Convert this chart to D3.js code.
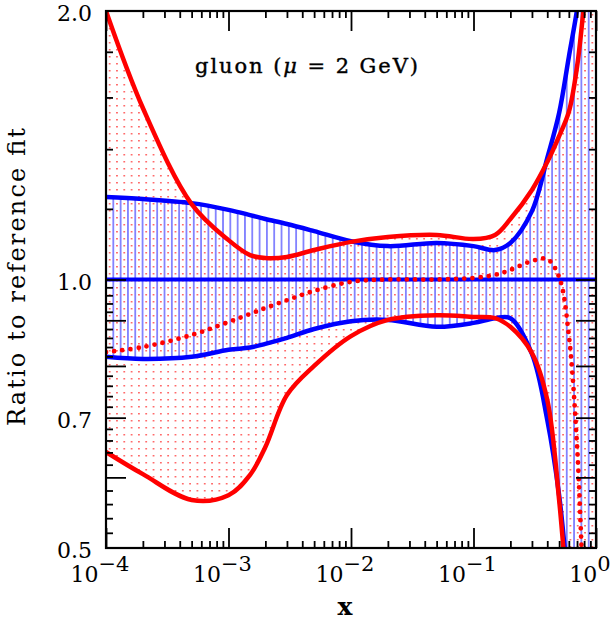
<!DOCTYPE html>
<html><head><meta charset="utf-8">
<script src="https://cdn.jsdelivr.net/npm/d3@7"></script>
<style>body{margin:0;background:#fff}svg{display:block}</style>
</head><body>
<script>
// ---- data ----
const xGrid      = [1e-4, 2e-4, 5e-4, 1e-3, 1.5e-3, 2e-3, 3e-3, 5e-3, 1e-2, 2e-2, 5e-2, 0.1, 0.15, 0.2, 0.3, 0.4, 0.5, 0.6, 0.7, 0.8, 1.0];
const blueUpper  = [1.237,1.231,1.218,1.197,1.181,1.169,1.154,1.133,1.104,1.090,1.099,1.090,1.079,1.099,1.193,1.368,1.537,1.776,2.005,2.28,2.8];
const blueLower  = [0.819,0.8145,0.819,0.834,0.839,0.847,0.860,0.880,0.898,0.901,0.885,0.894,0.905,0.905,0.825,0.696,0.573,0.449,0.38,0.32,0.25];
const blueCentralX = [1e-4, 1.0];
const blueCentral  = [1.0, 1.0];
const redUpper   = [2.0,1.557,1.215,1.107,1.065,1.057,1.060,1.079,1.102,1.116,1.122,1.110,1.122,1.169,1.260,1.354,1.448,1.541,1.731,2.031,2.6];
const redLower   = [0.6406,0.605,0.566,0.573,0.604,0.649,0.742,0.800,0.864,0.901,0.912,0.908,0.905,0.885,0.827,0.733,0.566,0.42,0.33,0.28,0.22];
const redCentral = [0.829,0.840,0.8665,0.896,0.915,0.929,0.948,0.971,0.994,1.0,1.0,1.004,1.012,1.025,1.049,1.054,1.006,0.866,0.652,0.44,0.3];

const xMajorTicks = [1e-4, 1e-3, 1e-2, 1e-1, 1];
const xTickExp    = ["−4", "−3", "−2", "−1", "0"];
const yLongTicks  = [0.6, 0.7, 0.8, 0.9, 1.0];
const yShortTicksAbove = [1.2, 1.4, 1.6, 1.8];
const yLabelValues = [0.5, 0.7, 1.0, 2.0];
const yLabelTexts  = ["0.5", "0.7", "1.0", "2.0"];
const titleText = ["gluon  (", "μ", " = 2 GeV)"];
const xLabel = "x";
const yLabel = "Ratio to reference fit";

// ---- layout ----
const W = 616, H = 625;
const L = 106, R = 596, T = 11, B = 548;
const FONT = "'DejaVu Serif', serif";

const svg = d3.select("body").append("svg").attr("width", W).attr("height", H);
const x = d3.scaleLog().domain([1e-4, 1]).range([L, R]);
const y = d3.scaleLog().domain([0.5, 2]).range([B, T]);

const defs = svg.append("defs");
defs.append("clipPath").attr("id", "plotclip").append("rect")
  .attr("x", L).attr("y", T).attr("width", R - L).attr("height", B - T);

const step = (R - L) / 67;
const pb = defs.append("pattern").attr("id", "blueHatch").attr("patternUnits", "userSpaceOnUse")
  .attr("x", L).attr("y", 0).attr("width", step).attr("height", 20);
pb.append("rect").attr("x", -0.7).attr("y", 0).attr("width", 1.4).attr("height", 20).attr("fill", "#5c5cff");
pb.append("rect").attr("x", step - 0.7).attr("y", 0).attr("width", 1.4).attr("height", 20).attr("fill", "#5c5cff");

const pr = defs.append("pattern").attr("id", "redDots").attr("patternUnits", "userSpaceOnUse")
  .attr("x", L).attr("y", T).attr("width", step).attr("height", 7);
pr.append("rect").attr("x", step / 2 - 0.75).attr("y", 3).attr("width", 1.5).attr("height", 1.5).attr("fill", "#ff4a4a");

const plot = svg.append("g").attr("clip-path", "url(#plotclip)");
const CURVE = d3.curveCatmullRom.alpha(0.5);

const band = (lo, hi) => d3.area()
  .x((d, i) => x(xGrid[i]))
  .y0((d, i) => y(lo[i]))
  .y1((d, i) => y(hi[i]))
  .curve(CURVE)(xGrid);

const line = (xs, vs) => d3.line()
  .x((d, i) => x(xs[i]))
  .y((d, i) => y(vs[i]))
  .curve(CURVE)(xs);

plot.append("path").attr("d", band(redLower, redUpper)).attr("fill", "url(#redDots)");
plot.append("path").attr("d", band(blueLower, blueUpper)).attr("fill", "url(#blueHatch)");

const BLUE = "#0000ff", RED = "#ff0000";
plot.append("path").attr("d", line(blueCentralX, blueCentral)).attr("fill", "none").attr("stroke", BLUE).attr("stroke-width", 4);
plot.append("path").attr("d", line(xGrid, blueUpper)).attr("fill", "none").attr("stroke", BLUE).attr("stroke-width", 4.5);
plot.append("path").attr("d", line(xGrid, blueLower)).attr("fill", "none").attr("stroke", BLUE).attr("stroke-width", 4.5);
plot.append("path").attr("d", line(xGrid, redUpper)).attr("fill", "none").attr("stroke", RED).attr("stroke-width", 4.5);
plot.append("path").attr("d", line(xGrid, redLower)).attr("fill", "none").attr("stroke", RED).attr("stroke-width", 4.5);
plot.append("path").attr("d", line(xGrid, redCentral)).attr("fill", "none").attr("stroke", RED)
  .attr("stroke-width", 4.8).attr("stroke-linecap", "round").attr("stroke-dasharray", "0 8.2");

// ---- axes (ticks inward on all four sides) ----
const xMinor = [];
for (let e = -4; e < 0; e++) for (let m = 2; m <= 9; m++) xMinor.push(m * Math.pow(10, e));
const yMinor = [];
for (let k = 26; k <= 49; k++) { const v = k / 50; if (!yLongTicks.some(t => Math.abs(t - v) < 1e-9)) yMinor.push(v); }
const yShort = yMinor.concat(yShortTicksAbove);

function styleAxis(g) {
  g.select(".domain").remove();
  g.selectAll("line").attr("stroke", "#000").attr("stroke-width", 1.8);
  g.selectAll("text").remove();
}
const ax = svg.append("g");
ax.append("g").attr("transform", `translate(0,${B})`).call(d3.axisBottom(x).tickValues(xMajorTicks).tickSize(-20).tickFormat("")).call(styleAxis);
ax.append("g").attr("transform", `translate(0,${B})`).call(d3.axisBottom(x).tickValues(xMinor).tickSize(-7).tickFormat("")).call(styleAxis);
ax.append("g").attr("transform", `translate(0,${T})`).call(d3.axisTop(x).tickValues(xMajorTicks).tickSize(-20).tickFormat("")).call(styleAxis);
ax.append("g").attr("transform", `translate(0,${T})`).call(d3.axisTop(x).tickValues(xMinor).tickSize(-7).tickFormat("")).call(styleAxis);
ax.append("g").attr("transform", `translate(${L},0)`).call(d3.axisLeft(y).tickValues(yLongTicks).tickSize(-20).tickFormat("")).call(styleAxis);
ax.append("g").attr("transform", `translate(${L},0)`).call(d3.axisLeft(y).tickValues(yShort).tickSize(-7).tickFormat("")).call(styleAxis);
ax.append("g").attr("transform", `translate(${R},0)`).call(d3.axisRight(y).tickValues(yLongTicks).tickSize(-20).tickFormat("")).call(styleAxis);
ax.append("g").attr("transform", `translate(${R},0)`).call(d3.axisRight(y).tickValues(yShort).tickSize(-7).tickFormat("")).call(styleAxis);

svg.append("rect").attr("x", L).attr("y", T).attr("width", R - L).attr("height", B - T)
  .attr("fill", "none").attr("stroke", "#000").attr("stroke-width", 2.2);

// ---- labels ----
yLabelValues.forEach((v, i) => {
  svg.append("text").attr("x", 92).attr("y", y(v) + 10).attr("text-anchor", "end")
    .attr("font-family", FONT).attr("font-size", 22).attr("fill", "#000").text(yLabelTexts[i]);
});
xMajorTicks.forEach((v, i) => {
  const t = svg.append("text").attr("x", x(v) - 6).attr("y", 582).attr("text-anchor", "middle")
    .attr("font-family", FONT).attr("font-size", 22).attr("fill", "#000");
  t.append("tspan").text("10");
  t.append("tspan").attr("dy", -11).attr("font-size", 21).text(xTickExp[i]);
});

svg.append("text").attr("x", 345).attr("y", 615).attr("text-anchor", "middle")
  .attr("font-family", FONT).attr("font-size", 25).attr("font-weight", "bold").text(xLabel);

svg.append("text").attr("transform", "translate(25,277) rotate(-90)").attr("text-anchor", "middle")
  .attr("font-family", FONT).attr("font-size", 24).attr("textLength", 298).attr("lengthAdjust", "spacing")
  .text(yLabel);

const tt = svg.append("text").attr("x", 195).attr("y", 73).attr("font-family", FONT).attr("font-size", 21)
  .attr("stroke", "#000").attr("stroke-width", 0.4).attr("textLength", 223).attr("lengthAdjust", "spacing");
tt.append("tspan").text(titleText[0]);
tt.append("tspan").attr("font-style", "italic").text(titleText[1]);
tt.append("tspan").text(titleText[2]);
</script>
</body></html>
